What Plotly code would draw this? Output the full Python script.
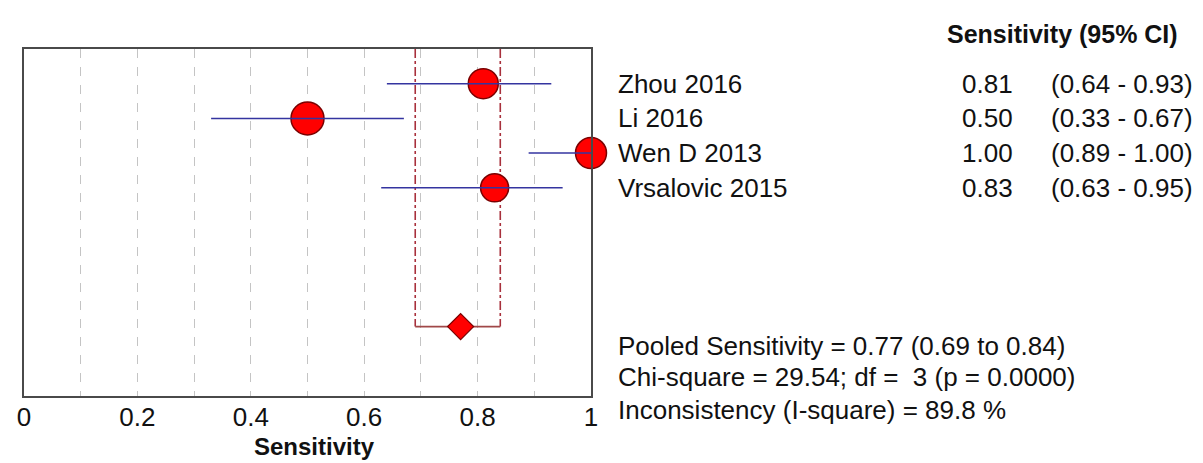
import plotly.graph_objects as go

# ---- data ----
studies = ["Zhou 2016", "Li 2016", "Wen D 2013", "Vrsalovic 2015"]
sensitivity = [0.81, 0.50, 1.00, 0.83]
ci_low = [0.64, 0.33, 0.89, 0.63]
ci_high = [0.93, 0.67, 1.00, 0.95]
pooled = 0.77
pooled_low = 0.69
pooled_high = 0.84
tick_vals = [0, 0.2, 0.4, 0.6, 0.8, 1.0]
tick_text = ["0", "0.2", "0.4", "0.6", "0.8", "1"]
minor_grid = [0.1, 0.3, 0.5, 0.7, 0.9]
header = "Sensitivity (95% CI)"
stats_lines = [
    "Pooled Sensitivity = 0.77 (0.69 to 0.84)",
    "Chi-square = 29.54; df =  3 (p = 0.0000)",
    "Inconsistency (I-square) = 89.8 %",
]
axis_title = "Sensitivity"

# ---- styling / layout ----
OFF = 8                      # page body margin
W, H = 1203 - OFF, 463 - OFF
PX0, PX1, PY0, PY1 = 17, 591, 49, 396   # plot box in window pixels
L, T = PX0 - OFF, PY0 - OFF
R = W - (PX1 - OFF)
B = H - (PY1 - OFF)
PW, PH = PX1 - PX0, PY1 - PY0
FONT = "Liberation Sans, Arial, sans-serif"
marker_sizes = [30, 33, 31, 28]
rows = list(range(1, len(studies) + 1))
pooled_row = 8


def pxx(px):
    return (px - PX0) / PW


def pxy(py):
    return (PY1 - py) / PH


fig = go.Figure()

# pooled CI vertical dash-dot lines
fig.add_trace(go.Scatter(
    x=[pooled_low, pooled_low, None, pooled_high, pooled_high],
    y=[0, pooled_row, None, 0, pooled_row],
    mode="lines", line=dict(color="#a8303c", width=1.6, dash="dashdot"),
    hoverinfo="skip", showlegend=False))
# pooled bracket
fig.add_trace(go.Scatter(
    x=[pooled_low, pooled_high], y=[pooled_row, pooled_row],
    mode="lines", line=dict(color="#a04848", width=1.6),
    hoverinfo="skip", showlegend=False))

# study points
fig.add_trace(go.Scatter(
    x=sensitivity, y=rows, mode="markers",
    marker=dict(size=marker_sizes, color="#ff0000", opacity=1,
                line=dict(color="#7a0000", width=1.5)),
    cliponaxis=False, showlegend=False))

# CI lines
cx, cy = [], []
for lo, hi, r in zip(ci_low, ci_high, rows):
    cx += [lo, hi, None]
    cy += [r, r, None]
fig.add_trace(go.Scatter(
    x=cx, y=cy, mode="lines", line=dict(color="#3434a0", width=1.5),
    cliponaxis=False, hoverinfo="skip", showlegend=False))

# pooled diamond
fig.add_trace(go.Scatter(
    x=[pooled], y=[pooled_row], mode="markers",
    marker=dict(symbol="diamond", size=20, color="#ff0000", opacity=1,
                line=dict(color="#7a0000", width=1.2)),
    showlegend=False))

ann = []
for name, v, lo, hi, r in zip(studies, sensitivity, ci_low, ci_high, rows):
    ann.append(dict(x=pxx(616), xref="paper", y=r, yref="y", text=name,
                    xanchor="left", yanchor="middle", showarrow=False))
    ann.append(dict(x=pxx(1020), xref="paper", y=r, yref="y", text=f"{v:.2f}",
                    xanchor="right", yanchor="middle", showarrow=False))
    ann.append(dict(x=pxx(1055), xref="paper", y=r, yref="y",
                    text=f"({lo:.2f} - {hi:.2f})",
                    xanchor="left", yanchor="middle", showarrow=False))
ann.append(dict(x=pxx(1187), xref="paper", y=pxy(34), yref="paper",
                text=f"<b>{header}</b>", xanchor="right", yanchor="middle",
                showarrow=False, font=dict(size=25)))
for line, py in zip(stats_lines, [346, 377, 410]):
    ann.append(dict(x=pxx(616), xref="paper", y=pxy(py), yref="paper",
                    text=line, xanchor="left", yanchor="middle", showarrow=False))
ann.append(dict(x=pxx(311), xref="paper", y=pxy(447), yref="paper",
                text=f"<b>{axis_title}</b>", xanchor="center", yanchor="middle",
                showarrow=False, font=dict(size=24)))

fig.update_layout(
    width=W, height=H,
    margin=dict(l=L, r=R, t=T, b=B, pad=0),
    paper_bgcolor="white", plot_bgcolor="white",
    font=dict(family=FONT, size=26, color="#111111"),
    annotations=ann,
    xaxis=dict(range=[0, 1], tickvals=tick_vals, ticktext=tick_text,
               ticks="", showline=True, mirror=True, linecolor="#4a4a4a",
               linewidth=2, showgrid=True, gridcolor="#c4c4c4", gridwidth=1,
               griddash="dash", zeroline=False, ticklabelstandoff=-3,
               tickfont=dict(size=26, color="#111111"),
               minor=dict(tickvals=minor_grid, showgrid=True,
                          gridcolor="#c4c4c4", gridwidth=1, griddash="dash",
                          ticks="")),
    yaxis=dict(range=[10, 0], showticklabels=False, ticks="", showgrid=False,
               zeroline=False, showline=True, mirror=True,
               linecolor="#4a4a4a", linewidth=2),
)

fig.write_html("out.html")
